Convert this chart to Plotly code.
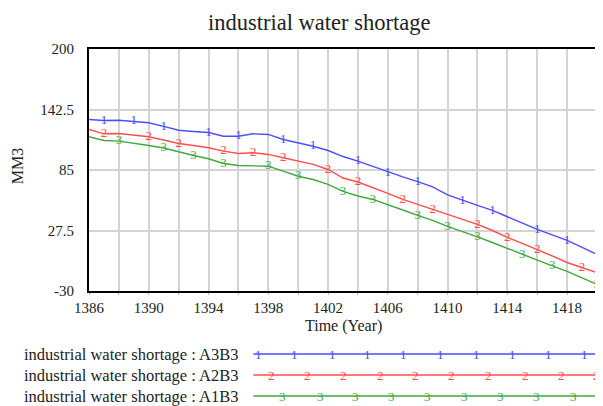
import plotly.graph_objects as go

# Simulation output (MM3 per year)
years = list(range(1386, 1421))
a3b3 = [133, 132, 132.3, 131.4, 129.9, 126.4, 122.8, 121.6, 120.6, 117.1,
        117.1, 119.4, 118.8, 114, 110.7, 107.6, 103.5, 97.8, 93.4, 88.4,
        82.7, 78.4, 74, 68.9, 61.3, 56, 51.3, 46.6, 40.4, 34.2,
        28.5, 23.3, 18.1, 11.4, 4.75]
a2b3 = [123.5, 119.4, 119.7, 118.3, 116.6, 113.5, 110.2, 108.3, 106.1, 102.9,
        100.7, 101.4, 99.8, 96.6, 93.6, 90.3, 85.5, 77.4, 73.6, 68.4,
        62.7, 57, 52.3, 47.5, 42.8, 38, 33.3, 27.5, 20.9, 15.2,
        9.5, 3.3, -2.9, -7.6, -12.6]
a1b3 = [116.6, 113, 112.4, 110.7, 108.3, 105.9, 102.1, 98.8, 95.7, 91.2,
        89.3, 89.3, 88.6, 83.9, 79.1, 76, 71.3, 64.6, 60.3, 57,
        52.3, 47, 41.8, 37.1, 31.4, 26.6, 21.4, 16.1, 10.5, 4.75,
        -1, -6.2, -11.4, -17.6, -23.8]

# years where Vensim drew the run number on each line
marks_a3b3 = [1387, 1389, 1391, 1394, 1396, 1399, 1401, 1404, 1406, 1408, 1411, 1413, 1416, 1418]
marks_a2b3 = [1387, 1390, 1392, 1395, 1397, 1399, 1402, 1404, 1407, 1409, 1412, 1414, 1416, 1419]
marks_a1b3 = [1388, 1391, 1393, 1395, 1398, 1400, 1403, 1405, 1408, 1410, 1412, 1415, 1417, 1420]

y_ticks = [-30, 27.5, 85, 142.5, 200]
x_ticks = list(range(1386, 1421, 2))
x_labels = [str(v) if (v - 1386) % 4 == 0 else "" for v in x_ticks]

SERIF = "Liberation Serif, Times New Roman, serif"
runs = [
    ("industrial water shortage : A3B3", a3b3, marks_a3b3, "1", "#4d4dff"),
    ("industrial water shortage : A2B3", a2b3, marks_a2b3, "2", "#ff4d4d"),
    ("industrial water shortage : A1B3", a1b3, marks_a1b3, "3", "#3fa83f"),
]

# the page body has an 8px margin, so the figure sits at (8, 8) in the window
OFF = 8
W, H = 603 - OFF, 406 - OFF
# plot box in window pixels
L, R, T, B = 89, 599, 49, 291


def px_x(px):
    return (px - L) / (R - L)


def px_y(py):
    return (B - py) / (B - T)


fig = go.Figure()
for name, vals, marks, num, color in runs:
    fig.add_trace(go.Scatter(x=years, y=vals, mode="lines", name=name,
                             line=dict(color=color, width=1.4), showlegend=False))
    mk_y = [vals[years.index(yr)] for yr in marks]
    fig.add_trace(go.Scatter(x=marks, y=mk_y, mode="text", text=[num] * len(marks),
                             textposition="middle center", showlegend=False,
                             textfont=dict(family=SERIF, size=13, color=color)))

# legend rows: label, sample line and run numbers, like the Vensim strip
legend_rows = [354, 375, 396]
legend_marks = [
    [259, 295, 333, 369, 405, 442, 478, 514, 550, 586],
    [272, 308, 345, 382, 417, 453, 490, 527, 563, 598],
    [283, 321, 357, 393, 429, 466, 502, 538, 575],
]
for (name, vals, marks, num, color), row, lm in zip(runs, legend_rows, legend_marks):
    fig.add_annotation(text=name, xref="paper", yref="paper", x=px_x(241), y=px_y(row),
                       xanchor="right", yanchor="middle", showarrow=False,
                       font=dict(family=SERIF, size=16.5, color="#222"))
    fig.add_shape(type="line", xref="paper", yref="paper",
                  x0=px_x(254), x1=px_x(597), y0=px_y(row), y1=px_y(row),
                  line=dict(color=color, width=1.4))
    for m in lm:
        fig.add_annotation(text=num, xref="paper", yref="paper", x=px_x(m), y=px_y(row),
                           xanchor="center", yanchor="middle", showarrow=False,
                           font=dict(family=SERIF, size=13, color=color))

fig.add_annotation(text="industrial water shortage", xref="paper", yref="paper",
                   x=px_x(320), y=px_y(23), xanchor="center", yanchor="middle",
                   showarrow=False, font=dict(family=SERIF, size=22.5, color="#222"))
fig.add_annotation(text="Time (Year)", xref="paper", yref="paper",
                   x=px_x(344), y=px_y(326), xanchor="center", yanchor="middle",
                   showarrow=False, font=dict(family=SERIF, size=16, color="#222"))
fig.add_annotation(text="MM3", xref="paper", yref="paper", textangle=-90,
                   x=px_x(17), y=px_y(166), xanchor="center", yanchor="middle",
                   showarrow=False, font=dict(family=SERIF, size=16, color="#222"))

fig.update_layout(
    width=W, height=H,
    margin=dict(l=L - OFF, r=W - (R - OFF), t=T - OFF, b=H - (B - OFF)),
    plot_bgcolor="white", paper_bgcolor="white",
    font=dict(family=SERIF, size=15, color="#222"),
)
fig.update_xaxes(range=[1386, 1420], tickvals=x_ticks, ticktext=x_labels,
                 showgrid=True, gridcolor="#d4d4d4", gridwidth=1.5,
                 showline=True, linecolor="black", linewidth=2, mirror=True,
                 ticks="outside", ticklen=2, tickcolor="#bbb", zeroline=False)
fig.update_yaxes(range=[-30, 200], tickvals=y_ticks, ticktext=[f"{v:g}" for v in y_ticks],
                 showgrid=True, gridcolor="#d4d4d4", gridwidth=1.5,
                 showline=True, linecolor="black", linewidth=2, mirror=True,
                 ticks="", ticklabelstandoff=10, zeroline=False)

fig.write_html("out.html")
